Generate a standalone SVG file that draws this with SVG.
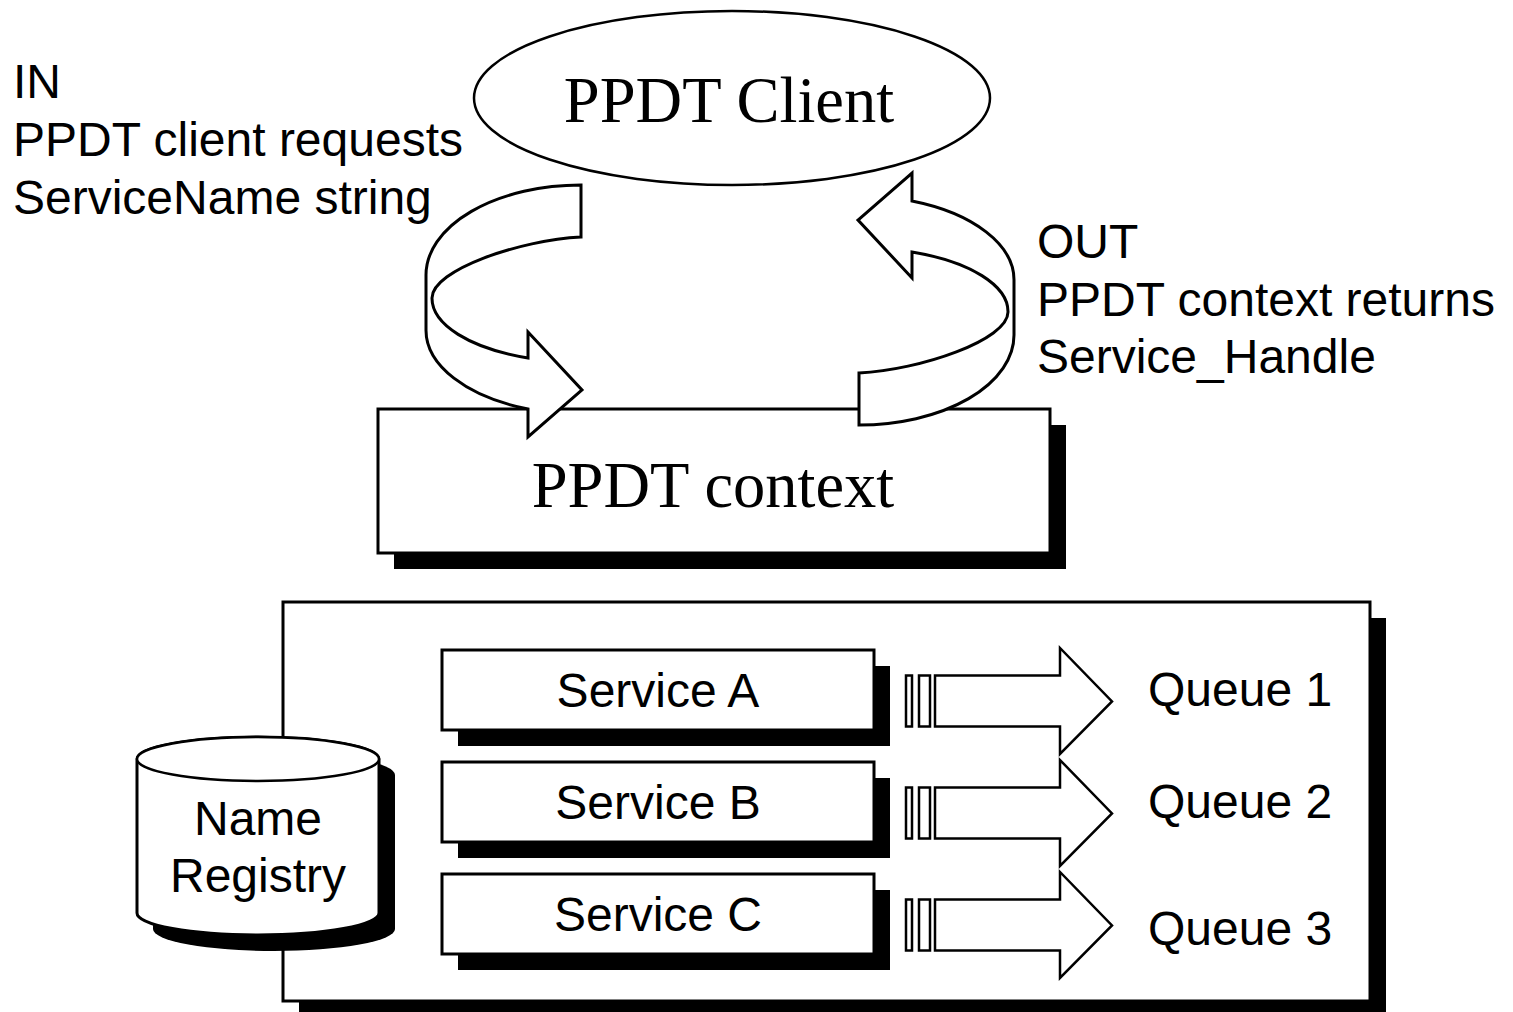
<svg xmlns="http://www.w3.org/2000/svg" xmlns:xlink="http://www.w3.org/1999/xlink" width="1513" height="1012" viewBox="0 0 1513 1012">
  <style>
    .ln { fill: #fff; stroke: #000; stroke-width: 3; stroke-linejoin: miter; }
    .thin { fill: #fff; stroke: #000; stroke-width: 2.5; }
    .sh { fill: #000; stroke: none; }
    .sans { font-family: "Liberation Sans", Arial, sans-serif; font-size: 48px; fill: #000; }
    .serif { font-family: "Liberation Serif", "Times New Roman", serif; font-size: 64.5px; fill: #000; }
    .mid { text-anchor: middle; }
  </style>
  <defs>
    <!-- twisted ribbon loop arrow: tail at the top right, head at the bottom right -->
    <path id="loopArrow" class="ln" d="M581,185 A155,90 0 0 0 426,275 L426,330 A156,84 0 0 0 528,409 L528,437 L582,390 L528,332 L528,358 A150,64 0 0 1 432,298 C432,270 520,240 581,237 Z"/>
    <!-- block arrow with two stripes, centred on y=0 -->
    <g id="queueArrow">
      <rect class="thin" x="906" y="-25.5" width="6" height="51"/>
      <rect class="thin" x="919" y="-25.5" width="11" height="51"/>
      <path class="thin" d="M935,-25.5 H1060 V-53 L1112,0.5 L1060,53 V25.5 H935 Z"/>
    </g>
  </defs>

  <rect x="0" y="0" width="1513" height="1012" fill="#fff"/>

  <!-- side notes -->
  <g id="in-note" class="sans">
    <text x="13" y="98">IN</text>
    <text x="13" y="156">PPDT client requests</text>
    <text x="13" y="214">ServiceName string</text>
  </g>
  <g id="out-note" class="sans">
    <text x="1037" y="258">OUT</text>
    <text x="1037" y="316">PPDT context returns</text>
    <text x="1037" y="373">Service_Handle</text>
  </g>

  <!-- client -->
  <g id="ppdt-client">
    <ellipse class="thin" cx="732" cy="98" rx="258" ry="87"/>
    <text class="serif mid" x="729" y="122">PPDT Client</text>
  </g>

  <!-- context -->
  <g id="ppdt-context">
    <rect class="sh" x="394" y="425" width="672" height="144"/>
    <rect class="ln" x="378" y="409" width="672" height="144"/>
    <text class="serif mid" x="713" y="507">PPDT context</text>
  </g>

  <!-- request / reply loops -->
  <g id="connectors">
    <use xlink:href="#loopArrow" href="#loopArrow"/>
    <use xlink:href="#loopArrow" href="#loopArrow" transform="rotate(180 720 305)"/>
  </g>

  <!-- registry container -->
  <g id="container">
    <rect class="sh" x="299" y="618" width="1087" height="399"/>
    <rect class="ln" x="283" y="602" width="1087" height="399"/>
  </g>

  <g id="name-registry">
    <path class="sh" d="M153,775 V929 A121,22 0 0 0 395,929 V775 A121,22 0 0 0 153,775 Z"/>
    <path class="ln" d="M137,759 V913 A121,22 0 0 0 379,913 V759 A121,22 0 0 0 137,759 Z"/>
    <ellipse class="thin" cx="258" cy="759" rx="121" ry="22"/>
    <text class="sans mid" x="258" y="835">Name</text>
    <text class="sans mid" x="258" y="892">Registry</text>
  </g>

  <g id="service-a">
    <rect class="sh" x="458" y="666" width="432" height="80"/>
    <rect class="ln" x="442" y="650" width="432" height="80"/>
    <text class="sans mid" x="658" y="707">Service A</text>
  </g>
  <g id="service-b">
    <rect class="sh" x="458" y="778" width="432" height="80"/>
    <rect class="ln" x="442" y="762" width="432" height="80"/>
    <text class="sans mid" x="658" y="819">Service B</text>
  </g>
  <g id="service-c">
    <rect class="sh" x="458" y="890" width="432" height="80"/>
    <rect class="ln" x="442" y="874" width="432" height="80"/>
    <text class="sans mid" x="658" y="931">Service C</text>
  </g>

  <g id="queue-arrows">
    <use xlink:href="#queueArrow" href="#queueArrow" transform="translate(0 701)"/>
    <use xlink:href="#queueArrow" href="#queueArrow" transform="translate(0 813)"/>
    <use xlink:href="#queueArrow" href="#queueArrow" transform="translate(0 925)"/>
  </g>

  <g id="queue-1"><text class="sans" x="1148" y="706">Queue 1</text></g>
  <g id="queue-2"><text class="sans" x="1148" y="818">Queue 2</text></g>
  <g id="queue-3"><text class="sans" x="1148" y="945">Queue 3</text></g>
</svg>
